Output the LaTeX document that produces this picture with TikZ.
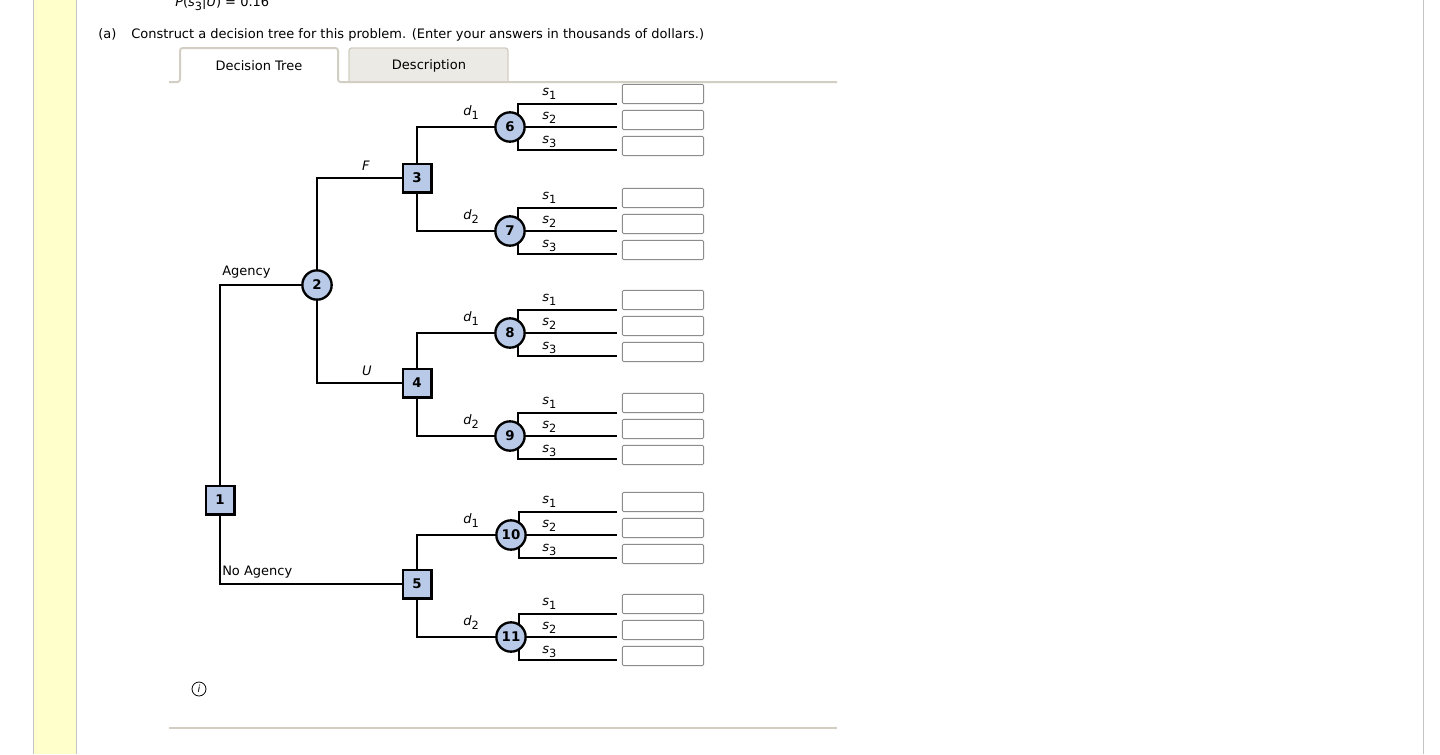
\documentclass[tikz,border=0pt]{standalone}
\usepackage{fontspec}
\setmainfont{DejaVu Sans}
\usepackage{xcolor}
\usepackage{tikz}
\usetikzlibrary{backgrounds}
\definecolor{treeFill}{HTML}{B8CAE8}
\definecolor{pageYellow}{HTML}{FFFFCC}
\definecolor{pageRule}{HTML}{C4C4C4}
\definecolor{tabLine}{HTML}{D2CEC3}
\definecolor{tabFill}{HTML}{ECEAE5}
\definecolor{boxLine}{HTML}{8C8C8C}
\newcommand{\varsub}[2]{\textit{#1}\raisebox{-3.6pt}{\fontsize{8.5}{9}\selectfont #2}}

\begin{document}
\begin{tikzpicture}[
  x=0.75pt,y=-0.75pt,
  every node/.style={font=\fontsize{9.75}{12}\selectfont},
  lbl/.style={inner sep=0pt},
  decnode/.style={draw,line width=1.75pt,fill=treeFill,minimum size=21.5pt,inner sep=0pt,font=\fontsize{10}{11}\selectfont\bfseries},
  chnode/.style={decnode,circle,minimum size=22pt},
  edge/.style={line width=2.2pt},
  ansbox/.style={draw=boxLine,line width=0.7pt,rounded corners=1pt,fill=white,minimum width=61pt,minimum height=14.5pt,inner sep=0pt}
]
\useasboundingbox (0,0) rectangle (1440,754);
\clip (0,0) rectangle (1440,754);
\begin{scope}[on background layer]
  \fill[white] (0,0) rectangle (1440,754);
  \fill[pageYellow] (33,0) rectangle (76,754);
  \draw[pageRule] (33,0) -- (33,754);
  \draw[pageRule] (76,0) -- (76,754);
  \draw[pageRule] (1423,0) -- (1423,754);
\end{scope}

% question text
\node[lbl,anchor=base west] (prob) at (175,6) {\textit{P}(\varsub{s}{3}|\textit{U}) = 0.16};
\node[lbl,anchor=base west] (parta) at (98,38) {(a)};
\node[lbl,anchor=base west] (task) at (131,38) {Construct a decision tree for this problem. (Enter your answers in thousands of dollars.)};

% tabs
\filldraw[fill=tabFill,draw=tabLine,line width=1pt,rounded corners=2pt] (349,82) -- (349,48) -- (508,48) -- (508,82);
\draw[tabLine,line width=1.5pt,rounded corners=2pt] (169,82) -- (180,82) -- (180,48) -- (338,48) -- (338,82) -- (837,82);
\node[lbl,anchor=base] (tabtree) at (259,70) {Decision Tree};
\node[lbl,anchor=base] (tabdesc) at (429,69) {Description};
\draw[tabLine,line width=1.5pt] (169,728) -- (837,728);
\node[draw,circle,inner sep=0pt,minimum size=10.5pt,line width=0.6pt,font=\fontsize{7.5}{8}\selectfont\itshape] (info) at (199,689) {i};

% decision and chance nodes
\node[decnode] (n1) at (220,500) {1};
\node[chnode] (n2) at (317,285) {2};
\node[decnode] (n3) at (417,178) {3};
\node[decnode] (n4) at (417,383) {4};
\node[decnode] (n5) at (417,584) {5};

\begin{scope}[on background layer]
  \draw[edge] (n1) |- (n2);
  \draw[edge] (n1) |- (n5);
  \draw[edge] (n2) |- (n3);
  \draw[edge] (n2) |- (n4);
\end{scope}
\node[lbl,anchor=base west] (agency) at (222,275) {Agency};
\node[lbl,anchor=base west] (noagency) at (222,575) {No Agency};
\node[lbl,anchor=base] (lf) at (366,170) {\textit{F}};
\node[lbl,anchor=base] (lu) at (367,375) {\textit{U}};

\foreach \n/\p/\x/\y/\d in {6/3/510/127/1,7/3/510/231/2,8/4/510/333/1,9/4/510/436/2,10/5/511/535/1,11/5/511/637/2}{
  \node[chnode] (n\n) at (\x,\y) {\n};
  \node[lbl,anchor=base west] (d\n) at (463,\y-12) {\varsub{d}{\d}};
  \foreach \k/\dy/\by/\sy in {1/-23/-33/-9,2/0/-7/-8,3/23/19/-7}{
    \coordinate (e\n-\k) at (617,\y+\dy);
    \node[ansbox] (a\n-\k) at (663,\y+\by) {};
    \node[lbl,anchor=base west] (s\n-\k) at (542,\y+\dy+\sy) {\varsub{s}{\k}};
  }
  \begin{scope}[on background layer]
    \draw[edge] (n\p) |- (n\n);
    \draw[edge] (e\n-1) -| ([xshift=6pt]n\n.center) |- (e\n-3);
    \draw[edge] (n\n) -- (e\n-2);
  \end{scope}
}
\end{tikzpicture}
\end{document}
